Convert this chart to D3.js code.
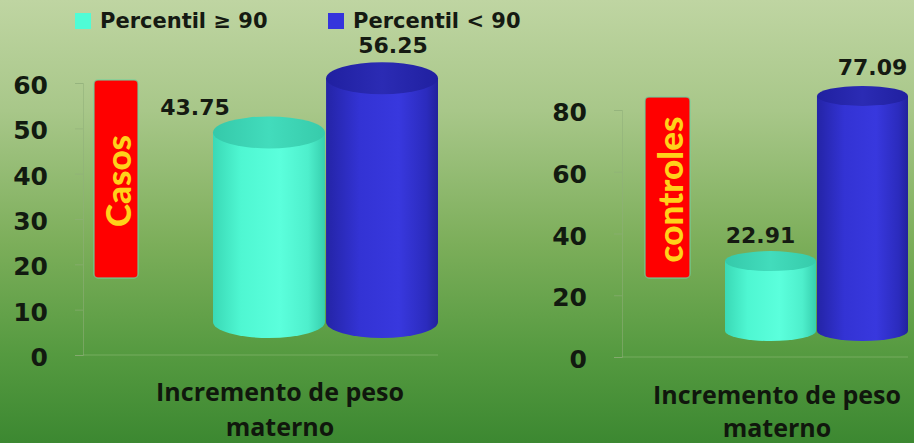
<!DOCTYPE html>
<html>
<head>
<meta charset="utf-8">
<script src="https://cdn.jsdelivr.net/npm/d3@7/dist/d3.min.js"></script>
<style>
  html, body { margin: 0; padding: 0; }
  body { width: 914px; height: 443px; overflow: hidden; }
  svg { display: block; }
</style>
</head>
<body>
<svg id="chart" width="914" height="443"></svg>
<script>
// Series, panels and values
const seriesNames = ["Percentil \u2265 90", "Percentil < 90"];
const panelNames = ["Casos", "controles"];
const casosValues = [43.75, 56.25];
const controlesValues = [22.91, 77.09];
const casosTicks = [0, 10, 20, 30, 40, 50, 60];
const controlesTicks = [0, 20, 40, 60, 80];
const categoryLines = ["Incremento de peso", "materno"];

// Panel geometry (back wall for the axis, front plane for the cylinders)
const panels = [
  {
    name: panelNames[0], values: casosValues, ticks: casosTicks, max: 60,
    axisX: 83, axisRange: [355, 83],
    frontRange: [322, 62], barRange: [213, 438], ry: 16,
    box: { x: 94, y: 80, w: 44, h: 198 },
    labelNudge: [[-74, 9], [11, 1]],
    catX: 280, catY: [391, 426]
  },
  {
    name: panelNames[1], values: controlesValues, ticks: controlesTicks, max: 80,
    axisX: 622, axisRange: [357, 110],
    frontRange: [331, 87], barRange: [725, 908], ry: 10,
    box: { x: 645, y: 97, w: 45, h: 181 },
    labelNudge: [[-10, 2], [10, 0]],
    catX: 777, catY: [394, 427]
  }
];

const svg = d3.select("#chart");
const defs = svg.append("defs");

// Background: sage at the top fading into deep green
const bg = defs.append("linearGradient").attr("id", "bg")
  .attr("x1", 0).attr("y1", 0).attr("x2", 0).attr("y2", 1);
[[0, "#bfd5a2"], [0.25, "#a8c789"], [0.55, "#7cae5a"], [0.8, "#559a40"], [1, "#3c8831"]]
  .forEach(([o, c]) => bg.append("stop").attr("offset", o).attr("stop-color", c));
svg.append("rect").attr("width", 914).attr("height", 443).attr("fill", "url(#bg)");

// Cylinder shading
function hGrad(id, stops) {
  const g = defs.append("linearGradient").attr("id", id)
    .attr("x1", 0).attr("y1", 0).attr("x2", 1).attr("y2", 0);
  stops.forEach(([o, c]) => g.append("stop").attr("offset", o).attr("stop-color", c));
}
hGrad("cyanBody", [[0, "#3ad9b6"], [0.25, "#4ff7d2"], [0.6, "#5bffdc"], [0.85, "#4eefcc"], [1, "#37cfae"]]);
hGrad("cyanTop", [[0, "#35c9aa"], [0.5, "#42dcbc"], [1, "#37cbab"]]);
hGrad("blueBody", [[0, "#2424a6"], [0.3, "#3333d4"], [0.65, "#3838de"], [0.9, "#2b2bbd"], [1, "#22229c"]]);
hGrad("blueTop", [[0, "#2020a0"], [0.5, "#2b2bb4"], [1, "#2020a0"]]);
const fills = [
  { body: "url(#cyanBody)", top: "url(#cyanTop)", swatch: "#4ffcd6" },
  { body: "url(#blueBody)", top: "url(#blueTop)", swatch: "#3434dc" }
];

const valueFont = "'DejaVu Sans', Verdana, sans-serif";
const boxFont = "Lato, 'Open Sans', sans-serif";

panels.forEach(p => {
  const yAxis = d3.scaleLinear().domain([0, p.max]).range(p.axisRange);
  const yFront = d3.scaleLinear().domain([0, p.max]).range(p.frontRange);
  const x = d3.scaleBand().domain(seriesNames).range(p.barRange).paddingInner(0.01);

  const g = svg.append("g");

  // Floor line
  g.append("line")
    .attr("x1", p.axisX).attr("x2", p.barRange[1])
    .attr("y1", yAxis(0)).attr("y2", yAxis(0))
    .attr("stroke", "#9cc487").attr("stroke-opacity", 0.45).attr("stroke-width", 1);

  // Value axis
  const ax = g.append("g").attr("transform", `translate(${p.axisX},0)`)
    .call(d3.axisLeft(yAxis).tickValues(p.ticks).tickSize(8).tickPadding(27).tickFormat(d3.format("d")));
  ax.select(".domain").attr("stroke", "#8fae7a").attr("stroke-opacity", 0.55);
  ax.selectAll(".tick line").attr("stroke", "#8fae7a").attr("stroke-opacity", 0.55);
  ax.selectAll(".tick text")
    .attr("fill", "#121a10").attr("dy", "0.42em")
    .style("font-family", valueFont).style("font-weight", "bold").style("font-size", "25px");

  // Panel tag
  const b = p.box;
  g.append("rect").attr("x", b.x).attr("y", b.y).attr("width", b.w).attr("height", b.h)
    .attr("rx", 4).attr("fill", "#ff0000")
    .attr("stroke", "#6fd3a0").attr("stroke-opacity", 0.7).attr("stroke-width", 1.5);
  g.append("text")
    .attr("transform", `translate(${b.x + b.w / 2 + 1},${b.y + b.h / 2 + 2}) rotate(-90)`)
    .attr("text-anchor", "middle").attr("dominant-baseline", "central")
    .attr("fill", "#ffd21a")
    .style("font-family", boxFont).style("font-weight", "900").style("font-size", "35px")
    .text(p.name);

  // Cylinders
  const rx = x.bandwidth() / 2;
  p.values.forEach((v, i) => {
    const cx = x(seriesNames[i]) + rx;
    const yb = yFront(0), yt = yFront(v);
    g.append("path")
      .attr("d", `M${cx - rx},${yt} L${cx - rx},${yb} A${rx},${p.ry} 0 0 0 ${cx + rx},${yb} L${cx + rx},${yt} Z`)
      .attr("fill", fills[i].body);
    g.append("ellipse")
      .attr("cx", cx).attr("cy", yt).attr("rx", rx).attr("ry", p.ry)
      .attr("fill", fills[i].top);
    g.append("text")
      .attr("x", cx + p.labelNudge[i][0])
      .attr("y", yt - p.ry - 18 + p.labelNudge[i][1])
      .attr("text-anchor", "middle").attr("dominant-baseline", "central")
      .attr("fill", "#151a12")
      .style("font-family", valueFont).style("font-weight", "bold").style("font-size", "22px")
      .text(v.toFixed(2));
  });

  // Category label
  categoryLines.forEach((t, k) => {
    g.append("text")
      .attr("x", p.catX).attr("y", p.catY[k])
      .attr("text-anchor", "middle").attr("dominant-baseline", "central")
      .attr("fill", "#10170d")
      .style("font-family", "'Open Sans', sans-serif").style("font-weight", "bold").style("font-size", "25px")
      .text(t);
  });
});

// Legend
const legendX = [75, 328];
const legend = svg.append("g");
seriesNames.forEach((s, i) => {
  legend.append("rect").attr("x", legendX[i]).attr("y", 13).attr("width", 16).attr("height", 16)
    .attr("fill", fills[i].swatch);
  legend.append("text").attr("x", legendX[i] + 25).attr("y", 21)
    .attr("dominant-baseline", "central").attr("fill", "#151a12")
    .style("font-family", valueFont).style("font-weight", "bold").style("font-size", "21px")
    .text(s);
});
</script>
</body>
</html>
